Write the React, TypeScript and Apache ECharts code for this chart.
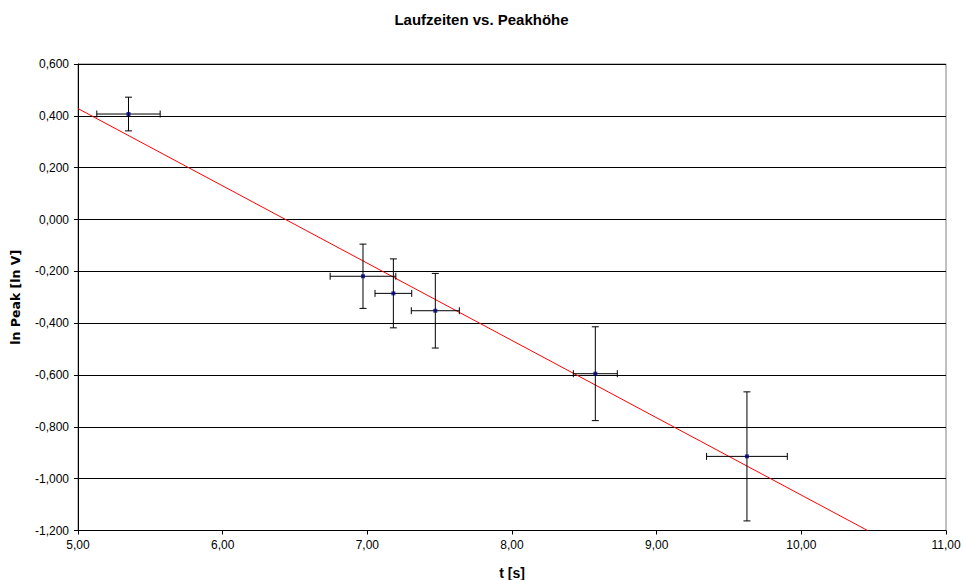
import React, { useEffect, useRef } from "react";
import * as echarts from "echarts";

const tValues = [5.349, 6.970, 7.180, 7.470, 8.576, 9.624];
const lnPeak = [0.407, -0.219, -0.285, -0.352, -0.595, -0.914];
const tErr = [0.219, 0.227, 0.127, 0.166, 0.152, 0.279];
const lnPeakErr = [0.065, 0.124, 0.133, 0.144, 0.181, 0.249];
const trendX = [5.0, 10.458];
const trendY = [0.428, -1.2];

const FONT = "'Liberation Sans', Arial, sans-serif";

export default function App() {
  const ref = useRef<HTMLDivElement>(null);
  useEffect(() => {
    if (!ref.current) return;
    const chart = echarts.init(ref.current, null, { renderer: "svg" });
    const points = tValues.map((t, i) => [t, lnPeak[i]]);
    const errData = tValues.map((t, i) => [t, lnPeak[i], tErr[i], lnPeakErr[i]]);
    const trend = trendX.map((x, i) => [x, trendY[i]]);
    const cap = 3.5;
    chart.setOption({
      animation: false,
      backgroundColor: "#fff",
      title: {
        text: "Laufzeiten vs. Peakhöhe",
        left: "center",
        top: 7,
        textStyle: { fontFamily: FONT, fontSize: 15, fontWeight: "bold", color: "#000" },
      },
      grid: {
        left: 78,
        right: 17,
        top: 64,
        bottom: 49.5,
        outerBoundsMode: "none",
        containLabel: false,
        show: true,
        borderColor: "#808080",
        borderWidth: 1,
        backgroundColor: "transparent",
      },
      xAxis: {
        type: "value",
        min: 5,
        max: 11,
        interval: 1,
        name: "t [s]",
        nameLocation: "middle",
        nameGap: 35,
        nameTextStyle: { fontFamily: FONT, fontSize: 14, fontWeight: "bold", color: "#000" },
        axisLine: { show: true, onZero: false, lineStyle: { color: "#000", width: 1 } },
        axisTick: { show: true, inside: false, length: 4, lineStyle: { color: "#000" } },
        axisLabel: {
          fontFamily: FONT,
          fontSize: 12,
          color: "#000",
          margin: 8,
          formatter: (v: number) => v.toFixed(2).replace(".", ","),
        },
        splitLine: { show: false },
      },
      yAxis: {
        type: "value",
        min: -1.2,
        max: 0.6,
        interval: 0.2,
        name: "ln Peak [ln V]",
        nameLocation: "middle",
        nameGap: 56,
        nameTextStyle: { fontFamily: "'DejaVu Sans', sans-serif", fontSize: 12.5, fontWeight: "bold", color: "#000" },
        axisLine: { show: true, onZero: false, lineStyle: { color: "#000", width: 1 } },
        axisTick: { show: true, inside: false, length: 4, lineStyle: { color: "#000" } },
        axisLabel: {
          fontFamily: FONT,
          fontSize: 12,
          color: "#000",
          margin: 9,
          formatter: (v: number) => v.toFixed(3).replace(".", ","),
        },
        splitLine: { show: true, lineStyle: { color: "#000", width: 1 } },
      },
      series: [
        {
          type: "line",
          data: trend,
          symbol: "none",
          lineStyle: { color: "#ff0000", width: 1 },
          z: 3,
        },
        {
          type: "custom",
          data: errData,
          z: 4,
          renderItem: (params: any, api: any) => {
            const x = api.value(0);
            const y = api.value(1);
            const ex = api.value(2);
            const ey = api.value(3);
            const c = api.coord([x, y]);
            const left = api.coord([x - ex, y]);
            const right = api.coord([x + ex, y]);
            const top = api.coord([x, y + ey]);
            const bot = api.coord([x, y - ey]);
            const style = { stroke: "#000", lineWidth: 1 };
            return {
              type: "group",
              children: [
                { type: "line", shape: { x1: left[0], y1: c[1], x2: right[0], y2: c[1] }, style },
                { type: "line", shape: { x1: left[0], y1: c[1] - cap, x2: left[0], y2: c[1] + cap }, style },
                { type: "line", shape: { x1: right[0], y1: c[1] - cap, x2: right[0], y2: c[1] + cap }, style },
                { type: "line", shape: { x1: c[0], y1: top[1], x2: c[0], y2: bot[1] }, style },
                { type: "line", shape: { x1: c[0] - cap, y1: top[1], x2: c[0] + cap, y2: top[1] }, style },
                { type: "line", shape: { x1: c[0] - cap, y1: bot[1], x2: c[0] + cap, y2: bot[1] }, style },
              ],
            };
          },
        },
        {
          type: "scatter",
          data: points,
          symbol: "rect",
          symbolSize: 4,
          itemStyle: { color: "#000080" },
          z: 5,
        },
      ],
    });
    return () => chart.dispose();
  }, []);
  return (
    <div
      ref={ref}
      style={{ position: "fixed", left: 0, top: 0, width: 963, height: 580, background: "#fff" }}
    />
  );
}
